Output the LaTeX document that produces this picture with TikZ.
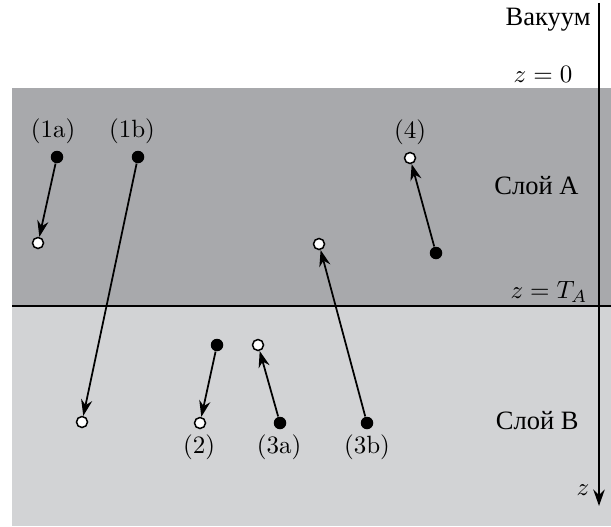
\documentclass[tikz,border=0pt]{standalone}
\usepackage{fontspec}
\newfontfamily\cyr{Liberation Serif}
\usetikzlibrary{arrows.meta}
\definecolor{layerA}{RGB}{168,169,172}
\definecolor{layerB}{RGB}{210,211,213}
\begin{document}
\begin{tikzpicture}[x=0.4pt,y=-0.4pt,
  bdot/.style={circle,fill=black,inner sep=0pt,minimum size=5pt},
  wdot/.style={circle,draw=black,fill=white,line width=0.6pt,inner sep=0pt,minimum size=4.4pt},
  traj/.style={line width=0.7pt,-{Stealth[length=6.5pt,width=4.5pt]}},
  lbl/.style={inner sep=0pt,font=\fontsize{10}{12}\selectfont},
  rus/.style={inner sep=0pt,font=\fontsize{10.6}{12}\selectfont\cyr}]
\useasboundingbox (0,0) rectangle (611,526);
\fill[layerA] (12,88) rectangle (611,306);
\fill[layerB] (12,306) rectangle (611,526);
\coordinate (bl) at (12,306);
\coordinate (br) at (611,306);
\draw[line width=0.6pt] (bl) -- (br);
\coordinate (ztop) at (599,3);
\coordinate (zbot) at (599,506);
\draw[line width=1.1pt,-{Stealth[length=6.5pt,width=4.5pt]}] (ztop) -- (zbot);
% texts
\node[rus,anchor=east] (vac) at (591,20) {Вакуум};
\node[lbl] (z0) at (543,74) {$z=0$};
\node[rus,anchor=east] (sa) at (579,186) {Слой A};
\node[lbl] (zta) at (549,292) {$z=T_A$};
\node[rus,anchor=east] (sb) at (579,421) {Слой B};
\node[lbl] (zl) at (583,490) {$z$};
% points
\node[bdot] (b1a) at (57,157) {};
\node[wdot] (w1a) at (38,243) {};
\node[bdot] (b1b) at (138,157) {};
\node[wdot] (w1b) at (82,422) {};
\node[bdot] (b2) at (217,345) {};
\node[wdot] (w2) at (200,423) {};
\node[bdot] (b3a) at (280,423) {};
\node[wdot] (w3a) at (258,345) {};
\node[bdot] (b3b) at (367,423) {};
\node[wdot] (w3b) at (319,244) {};
\node[bdot] (b4) at (436,253) {};
\node[wdot] (w4) at (410,158) {};
\draw[traj] (b1a) -- (w1a);
\draw[traj] (b1b) -- (w1b);
\draw[traj] (b2) -- (w2);
\draw[traj] (b3a) -- (w3a);
\draw[traj] (b3b) -- (w3b);
\draw[traj] (b4) -- (w4);
% labels
\node[lbl] (l1a) at (53,131) {(1a)};
\node[lbl] (l1b) at (132,131) {(1b)};
\node[lbl] (l4) at (410,132) {(4)};
\node[lbl] (l2) at (199,447) {(2)};
\node[lbl] (l3a) at (279,447) {(3a)};
\node[lbl] (l3b) at (367,447) {(3b)};
\end{tikzpicture}
\end{document}
